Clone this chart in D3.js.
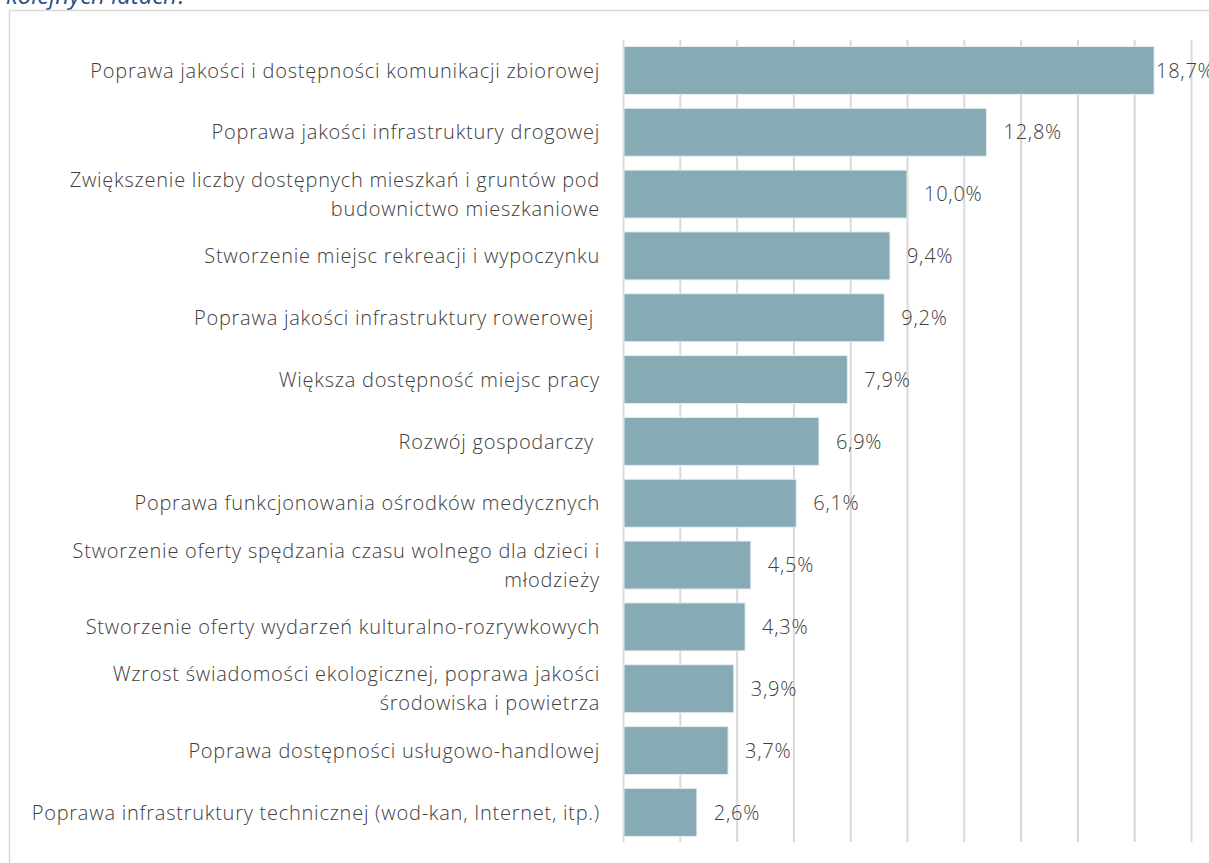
<!DOCTYPE html>
<html>
<head>
<meta charset="utf-8">
<script src="https://cdn.jsdelivr.net/npm/d3@7"></script>
<style>
  html, body { margin: 0; padding: 0; background: #fff; }
  svg { display: block; }
  text { white-space: pre; }
</style>
</head>
<body>
<svg id="chart" width="1209" height="863"></svg>
<script>
const categories = [
  ["Poprawa jakości i dostępności komunikacji zbiorowej"],
  ["Poprawa jakości infrastruktury drogowej"],
  ["Zwiększenie liczby dostępnych mieszkań i gruntów pod", "budownictwo mieszkaniowe"],
  ["Stworzenie miejsc rekreacji i wypoczynku"],
  ["Poprawa jakości infrastruktury rowerowej "],
  ["Większa dostępność miejsc pracy"],
  ["Rozwój gospodarczy "],
  ["Poprawa funkcjonowania ośrodków medycznych"],
  ["Stworzenie oferty spędzania czasu wolnego dla dzieci i", "młodzieży"],
  ["Stworzenie oferty wydarzeń kulturalno-rozrywkowych"],
  ["Wzrost świadomości ekologicznej, poprawa jakości", "środowiska i powietrza"],
  ["Poprawa dostępności usługowo-handlowej"],
  ["Poprawa infrastruktury technicznej (wod-kan, Internet, itp.)"]
];
const values = [18.7, 12.8, 10.0, 9.4, 9.2, 7.9, 6.9, 6.1, 4.5, 4.3, 3.9, 3.7, 2.6];
const xTicks = [0, 2, 4, 6, 8, 10, 12, 14, 16, 18, 20];
const titleTail = "kolejnych latach?";

const svg = d3.select("#chart");
const keys = categories.map((c, i) => i);

const x = d3.scaleLinear().domain([0, 20]).range([623, 1191]);
const y = d3.scaleBand().domain(keys).range([39.5, 843.3]).paddingInner(0.224).paddingOuter(0.112);

// title remnant (cut off at top, as in the source page)
svg.append("text")
  .attr("x", 6).attr("y", 3.5)
  .attr("font-family", "Open Sans")
  .attr("font-style", "italic")
  .attr("font-weight", 400)
  .attr("font-size", 24)
  .attr("fill", "#1f5189")
  .text(titleTail);

// chart frame
svg.append("rect")
  .attr("x", 9.5).attr("y", 10.5)
  .attr("width", 1400).attr("height", 1000)
  .attr("fill", "none")
  .attr("stroke", "#d9d9d9")
  .attr("stroke-width", 1.5);

// gridlines via axis
const grid = svg.append("g")
  .attr("transform", "translate(0,40)")
  .call(d3.axisBottom(x).tickValues(xTicks).tickSize(802).tickFormat(""));
grid.select(".domain").remove();
grid.selectAll(".tick line").attr("stroke", "#d9d9d9").attr("stroke-width", 2);

// bars
svg.append("g").selectAll("rect")
  .data(values)
  .join("rect")
  .attr("x", x(0) + 1)
  .attr("y", (d, i) => y(i))
  .attr("width", d => x(d) - x(0) - 1)
  .attr("height", y.bandwidth())
  .attr("fill", "#86abb5")
  .attr("stroke", "#e6eef0")
  .attr("stroke-width", 1);

// value labels
svg.append("g").selectAll("text")
  .data(values)
  .join("text")
  .attr("x", d => Math.min(x(d) + 17, 1156))
  .attr("y", (d, i) => y(i) + y.bandwidth() / 2)
  .attr("dy", "0.36em")
  .attr("font-family", "Open Sans")
  .attr("font-weight", 300)
  .attr("font-size", 20)
  .attr("letter-spacing", 0.75)
  .attr("fill", "#404040")
  .text(d => d.toFixed(1).replace(".", ",") + "%");

// category labels
const lineH = 29;
const lab = svg.append("g").selectAll("text")
  .data(categories)
  .join("text")
  .attr("text-anchor", "end")
  .attr("font-family", "Open Sans")
  .attr("font-weight", 300)
  .attr("font-size", 20)
  .attr("letter-spacing", 0.75)
  .attr("fill", "#404040")
  .attr("transform", (d, i) => `translate(600,${y(i) + y.bandwidth() / 2})`);
lab.selectAll("tspan")
  .data(d => d.map((t, j) => ({ t, j, n: d.length })))
  .join("tspan")
  .attr("x", 0)
  .attr("y", d => (d.j - (d.n - 1) / 2) * lineH)
  .attr("dy", "0.36em")
  .text(d => d.t);
</script>
</body>
</html>
